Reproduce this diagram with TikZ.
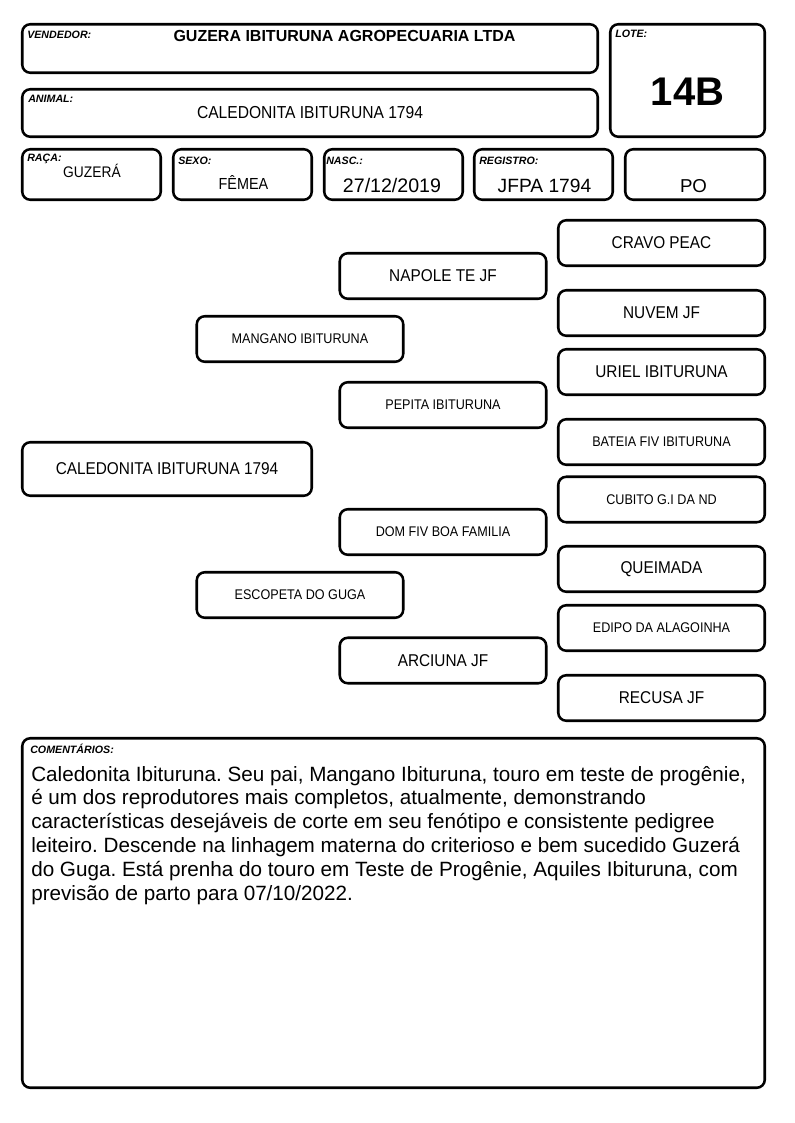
\documentclass[tikz,border=0pt]{standalone}
\usepackage{fontspec}
\setmainfont{Liberation Sans}
\newfontfamily\tightfont{Liberation Sans}[FakeStretch=0.9]
\frenchspacing

\begin{document}
\begin{tikzpicture}[x=0.75pt,y=-0.75pt,
	field/.style={draw, line width=1.9pt, rounded corners=6pt, inner sep=0pt},
	sz/.style 2 args={minimum width=#1*0.75pt, minimum height=#2*0.75pt},
	ped/.style={field, sz={206.5}{45.5}},
	lbl/.style={anchor=base west, inner sep=0pt, font=\bfseries\itshape\fontsize{8}{9.5}\selectfont},
	val/.style={anchor=base, inner sep=0pt},
	bigname/.style={font=\tightfont\fontsize{12.8}{14}\selectfont},
	smallname/.style={font=\tightfont\fontsize{10.5}{12}\selectfont}]
	
	\useasboundingbox (0,0) rectangle (794,1123);
	
	% header boxes
	\node[field, sz={575.5}{48.5}] (vendbox) at (310,48.5) {};
	\node[field, sz={154.5}{112.5}] (lotebox) at (687.5,80.5) {};
	\node[field, sz={575.5}{47.5}] (animalbox) at (310,113) {};
	\node[field, sz={138.5}{50.5}] (racabox) at (91.5,174.5) {};
	\node[field, sz={138.5}{50.5}] (sexobox) at (242.5,174.5) {};
	\node[field, sz={138.5}{50.5}] (nascbox) at (393.5,174.5) {};
	\node[field, sz={138.5}{50.5}] (regbox) at (543.5,174.5) {};
	\node[field, sz={139.5}{50.5}] (pobox) at (695,174.5) {};
	
	\node[lbl] (vendlbl) at (27,39) {VENDEDOR:};
	\node[lbl] (lotelbl) at (615,38) {LOTE:};
	\node[lbl] (animallbl) at (28,103) {ANIMAL:};
	\node[lbl] (racalbl) at (27,162) {RAÇA:};
	\node[lbl] (sexolbl) at (178,165) {SEXO:};
	\node[lbl] (nasclbl) at (326,165) {NASC.:};
	\node[lbl] (reglbl) at (479,165) {REGISTRO:};
	
	\node[val, font=\bfseries\fontsize{12}{14}\selectfont] (vendname) at (344.5,42) {GUZERA IBITURUNA AGROPECUARIA LTDA};
	\node[val, font=\bfseries\fontsize{30}{34}\selectfont] (lotenum) at (687.5,106) {14B};
	\node[val, font=\tightfont\fontsize{13}{15}\selectfont] (animalname) at (310,119) {CALEDONITA IBITURUNA 1794};
	\node[val, font=\tightfont\fontsize{11.5}{13}\selectfont] (raca) at (92,178) {GUZERÁ};
	\node[val, font=\tightfont\fontsize{12}{14}\selectfont] (sexo) at (243.5,190) {FÊMEA};
	\node[val, font=\fontsize{14.7}{17}\selectfont] (nasc) at (392,193) {27/12/2019};
	\node[val, font=\fontsize{14.4}{17}\selectfont] (reg) at (544.5,193) {JFPA 1794};
	\node[val, font=\fontsize{14}{17}\selectfont] (po) at (693.5,193) {PO};
	
	% pedigree
	\node[field, sz={289.5}{53.5}, bigname] (cal) at (167,469) {CALEDONITA IBITURUNA 1794};
	
	\node[ped, smallname] (mang) at (300,339) {MANGANO IBITURUNA};
	\node[ped, smallname] (esco) at (300,595) {ESCOPETA DO GUGA};
	
	\node[ped, bigname] (napo) at (443,276) {NAPOLE TE JF};
	\node[ped, smallname] (pepi) at (443,405) {PEPITA IBITURUNA};
	\node[ped, smallname] (dom) at (443,532) {DOM FIV BOA FAMILIA};
	\node[ped, bigname] (arci) at (443,660.5) {ARCIUNA JF};
	
	\node[ped, bigname] (cravo) at (661.5,243) {CRAVO PEAC};
	\node[ped, bigname] (nuvem) at (661.5,313) {NUVEM JF};
	\node[ped, bigname] (uriel) at (661.5,372) {URIEL IBITURUNA};
	\node[ped, smallname] (bateia) at (661.5,442) {BATEIA FIV IBITURUNA};
	\node[ped, smallname] (cubito) at (661.5,499.5) {CUBITO G.I DA ND};
	\node[ped, bigname] (queim) at (661.5,569) {QUEIMADA};
	\node[ped, smallname] (edipo) at (661.5,628) {EDIPO DA ALAGOINHA};
	\node[ped, bigname] (recusa) at (661.5,698) {RECUSA JF};
	
	% comments (base anchor sits on the last line)
	\node[field, sz={742.5}{349.5}] (combox) at (393.5,913) {};
	\node[lbl] (comlbl) at (30,753) {COMENTÁRIOS:};
	\node[anchor=base west, inner sep=0pt, align=left, font=\fontsize{15.5}{17.85}\selectfont] (comtext) at (31,900) {Caledonita Ibituruna. Seu pai, Mangano Ibituruna, touro em teste de progênie,\\
		é um dos reprodutores mais completos, atualmente, demonstrando\\
		características desejáveis de corte em seu fenótipo e consistente pedigree\\
		leiteiro. Descende na linhagem materna do criterioso e bem sucedido Guzerá\\
		do Guga. Está prenha do touro em Teste de Progênie, Aquiles Ibituruna, com\\
		previsão de parto para 07/10/2022.};
\end{tikzpicture}
\end{document}
